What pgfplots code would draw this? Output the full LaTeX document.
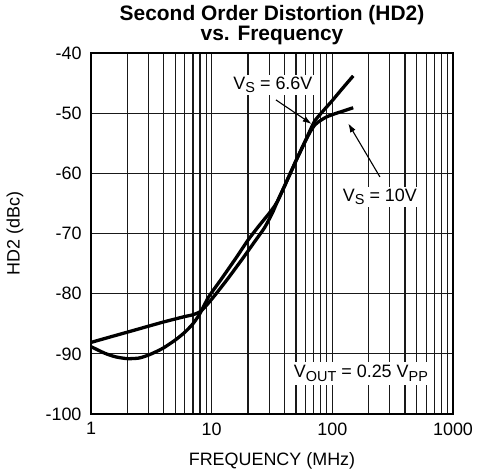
\documentclass[border=0pt]{standalone}
\usepackage{fontspec}
\setmainfont{Liberation Sans}
\usepackage{pgfplots}
\pgfplotsset{compat=1.18}
\usetikzlibrary{arrows.meta}
\newcommand{\sub}[1]{\raisebox{-0.4ex}{\fontsize{14.5}{15}\selectfont #1}}
\newcommand{\lblfont}{\fontsize{18}{19}\selectfont}
\begin{document}
\begin{tikzpicture}
\path[use as bounding box] (-91bp,-61bp) rectangle (388bp,414bp);
\begin{axis}[
  at={(0,0)}, anchor=south west,
  scale only axis, width=362bp, height=361bp,
  xmode=log, xmin=1, xmax=1000, ymin=-100, ymax=-40,
  xtick={1,10,100,1000}, xticklabels={1,10,100,1000},
  ytick={-100,-90,-80,-70,-60,-50,-40},
  yticklabels={-100,-90,-80,-70,-60,-50,-40},
  major tick length=0pt, minor tick length=0pt,
  xmajorgrids, xminorgrids, ymajorgrids,
  major grid style={black!90, line width=1.1bp},
  minor grid style={black!90, line width=1.1bp},
  axis line style={line width=1.8bp},
  tick label style={font=\lblfont},
  xticklabel style={yshift=-5bp},
  yticklabel style={xshift=-6bp},
]
\addplot[black, line width=3.3bp, smooth, tension=0.4] coordinates {
(1,-88.1) (1.5,-87.1) (2,-86.4) (3,-85.4) (4,-84.7) (5,-84.2) (6,-83.8) (7,-83.5) (8,-83.0)
(9,-82.0) (10.6,-80.3) (13.5,-77.6) (18,-74.2) (23,-71.2) (27.5,-69.0) (32,-66.5)
(35,-64.7) (40,-62.2) (50,-57.9) (60,-54.5) (66,-52.7) (72,-51.2)
(85,-49.5) (100,-47.9) (120,-46.0) (149,-43.8)
};
\addplot[black, line width=3.3bp, smooth, tension=0.4] coordinates {
(1,-88.8) (1.3,-89.9) (1.6,-90.5) (2,-90.8) (2.5,-90.7) (3,-90.2) (3.5,-89.6) (4,-89.0)
(5,-87.7) (6,-86.4) (7,-85.0) (8,-83.3) (9.4,-80.6) (12,-77.6) (16,-74.0) (20,-71.1)
(24.5,-68.8) (29,-67.0) (32,-65.9) (35,-64.7) (40,-62.2) (50,-57.9) (60,-54.6) (66,-53.0)
(72,-51.9) (80,-51.2) (90,-50.6) (105,-50.1) (125,-49.6) (149,-49.1)
};
\node[fill=white, inner sep=2bp, font=\lblfont] at (axis cs:32.2,-45.3) {V\sub{S} = 6.6V};
\node[fill=white, inner sep=2bp, font=\lblfont] at (axis cs:248,-63.9) {V\sub{S} = 10V};
\node[fill=white, inner sep=3bp, font=\lblfont] at (axis cs:172.6,-93.3) {V\sub{OUT} = 0.25 V\sub{PP}};
\draw[-{Latex[length=9bp,width=6bp]}, line width=1.1bp] (axis cs:34.1,-47.8) -- (axis cs:67.4,-51.8);
\draw[-{Latex[length=9bp,width=6bp]}, line width=1.1bp] (axis cs:248,-60.6) -- (axis cs:135.5,-51.7);
\end{axis}
\node[align=center, inner sep=0pt, anchor=south, font=\bfseries\fontsize{21}{17}\selectfont] at (181bp,369bp) {Second Order Distortion (HD2)\\vs. Frequency};
\node[font=\lblfont] at (181bp,-47bp) {FREQUENCY (MHz)};
\node[rotate=90, font=\lblfont] at (-76bp,180.5bp) {HD2 (dBc)};
\end{tikzpicture}
\end{document}
